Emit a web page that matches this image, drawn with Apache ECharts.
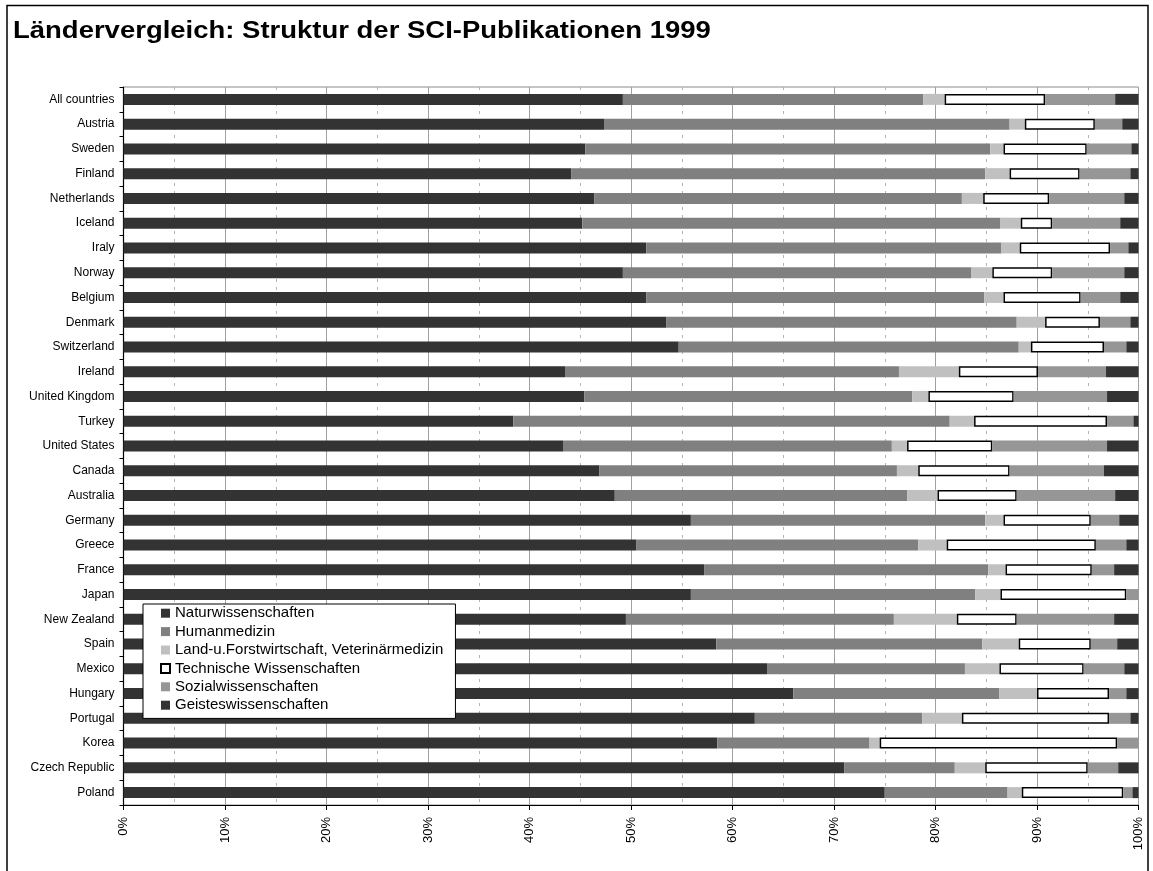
<!DOCTYPE html>
<html>
<head>
<meta charset="utf-8">
<title>Ländervergleich: Struktur der SCI-Publikationen 1999</title>
<script src="https://cdn.jsdelivr.net/npm/echarts@6/dist/echarts.min.js"></script>
<style>
  html, body { margin: 0; padding: 0; background: #fff; }
  #chart { width: 1153px; height: 871px; }
</style>
</head>
<body>
<div id="chart"></div>
<script>
// Countries, top to bottom
const countries = [
  'All countries', 'Austria', 'Sweden', 'Finland', 'Netherlands', 'Iceland', 'Iraly',
  'Norway', 'Belgium', 'Denmark', 'Switzerland', 'Ireland', 'United Kingdom', 'Turkey',
  'United States', 'Canada', 'Australia', 'Germany', 'Greece', 'France', 'Japan',
  'New Zealand', 'Spain', 'Mexico', 'Hungary', 'Portugal', 'Korea', 'Czech Republic', 'Poland'
];

// Shares of publications per field (%)
const naturwissenschaften = [49.2, 47.4, 45.5, 44.1, 46.4, 45.2, 51.5, 49.2, 51.5, 53.5, 54.7, 43.5, 45.4, 38.4, 43.3, 46.9, 48.4, 55.9, 50.5, 57.2, 55.9, 49.5, 58.4, 63.4, 66.0, 62.2, 58.5, 71.0, 75.0];
const humanmedizin        = [29.6, 39.9, 39.9, 40.8, 36.2, 41.2, 35.0, 34.3, 33.3, 34.5, 33.5, 32.9, 32.3, 43.0, 32.4, 29.3, 28.8, 29.0, 27.8, 28.0, 28.0, 26.4, 26.2, 19.5, 20.3, 16.5, 15.0, 10.9, 12.1];
const landForst           = [2.1, 1.5, 1.3, 2.4, 2.1, 2.0, 1.8, 2.1, 1.9, 2.8, 1.2, 5.9, 1.6, 2.4, 1.5, 2.1, 3.0, 1.8, 2.8, 1.7, 2.5, 6.2, 3.6, 3.4, 3.7, 3.9, 1.0, 3.0, 1.4];
const technische          = [9.9, 6.9, 8.2, 6.9, 6.5, 3.1, 8.9, 5.9, 7.6, 5.4, 7.2, 7.8, 8.4, 13.1, 8.4, 9.0, 7.8, 8.6, 14.7, 8.5, 12.4, 5.9, 7.1, 8.3, 7.1, 14.5, 23.4, 10.1, 10.0];
const sozial              = [6.9, 2.7, 4.4, 5.0, 7.4, 6.7, 1.8, 7.1, 3.9, 3.0, 2.2, 6.7, 9.2, 2.6, 11.3, 9.3, 9.7, 2.8, 3.0, 2.2, 1.2, 9.6, 2.6, 4.0, 1.7, 2.1, 2.1, 3.0, 0.9];
const geistes             = [2.3, 1.6, 0.7, 0.8, 1.4, 1.8, 1.0, 1.4, 1.8, 0.8, 1.2, 3.2, 3.1, 0.5, 3.1, 3.4, 2.3, 1.9, 1.2, 2.4, 0.0, 2.4, 2.1, 1.4, 1.2, 0.8, 0.0, 2.0, 0.6];

const seriesDefs = [
  { name: 'Naturwissenschaften', data: naturwissenschaften, color: '#333333' },
  { name: 'Humanmedizin', data: humanmedizin, color: '#808080' },
  { name: 'Land-u.Forstwirtschaft, Veterinärmedizin', data: landForst, color: '#c0c0c0' },
  { name: 'Technische Wissenschaften', data: technische, color: '#ffffff', border: '#000000' },
  { name: 'Sozialwissenschaften', data: sozial, color: '#969696' },
  { name: 'Geisteswissenschaften', data: geistes, color: '#333333' }
];

const FONT = 'Arial, "Liberation Sans", Helvetica, sans-serif';
const TITLE = 'Ländervergleich: Struktur der SCI-Publikationen 1999';

const chart = echarts.init(document.getElementById('chart'), null, { renderer: 'canvas' });

chart.setOption({
  animation: false,
  backgroundColor: '#ffffff',
  graphic: [{
    // outer frame of the chart sheet
    type: 'rect',
    silent: true,
    z: 100,
    shape: { x: 7, y: 5.5, width: 1141, height: 920 },
    style: { fill: 'none', stroke: '#000', lineWidth: 1.5 }
  }, {
    // heading, slightly widened like the sheet's own type
    type: 'text',
    silent: true,
    z: 100,
    x: 13,
    y: 19.5,
    scaleX: 1.145,
    style: {
      text: TITLE,
      font: 'bold 24px ' + FONT,
      fill: '#000',
      verticalAlign: 'top',
      align: 'left'
    }
  }],
  legend: {
    orient: 'vertical',
    left: 143,
    top: 604,
    itemWidth: 9,
    itemHeight: 9,
    itemGap: 0,
    icon: 'rect',
    backgroundColor: '#ffffff',
    borderColor: '#000000',
    borderWidth: 1,
    padding: [0, 12, 4, 17],
    textStyle: { fontFamily: FONT, fontSize: 15, color: '#000', lineHeight: 18.4 },
    z: 20
  },
  grid: {
    left: 123.5,
    right: 14.5,
    top: 87,
    bottom: 66,
    show: true,
    borderColor: '#8c8c8c',
    borderWidth: 1
  },
  xAxis: [{
    type: 'value',
    min: 0,
    max: 100,
    interval: 10,
    position: 'bottom',
    axisLine: { show: true, lineStyle: { color: '#000', width: 1.2 } },
    axisTick: { show: true, length: 5, lineStyle: { color: '#000' } },
    axisLabel: {
      rotate: 90,
      margin: 12,
      formatter: v => v + '%',
      fontFamily: FONT,
      fontSize: 13,
      color: '#000'
    },
    splitLine: { show: true, lineStyle: { color: '#a0a0a0', width: 1, type: 'solid' } }
  }, {
    type: 'value',
    min: 0,
    max: 100,
    interval: 5,
    position: 'top',
    axisLine: { show: false },
    axisTick: { show: false },
    axisLabel: { show: false },
    splitLine: {
      show: true,
      lineStyle: { color: ['rgba(0,0,0,0)', '#b4b4b4'], width: 1, type: [3, 5] }
    }
  }],
  yAxis: {
    type: 'category',
    data: countries,
    inverse: true,
    axisLine: { show: true, lineStyle: { color: '#000', width: 1.2 } },
    axisTick: { show: true, length: 4, lineStyle: { color: '#000' } },
    axisLabel: { fontFamily: FONT, fontSize: 12, color: '#000', margin: 9 },
    splitLine: { show: false }
  },
  series: seriesDefs.map(s => ({
    name: s.name,
    type: 'bar',
    stack: 'total',
    xAxisIndex: 0,
    barWidth: 11,
    data: s.data,
    itemStyle: s.border
      ? { color: s.color, borderColor: s.border, borderWidth: 1.5 }
      : { color: s.color },
    emphasis: { disabled: true }
  }))
});
</script>
</body>
</html>
